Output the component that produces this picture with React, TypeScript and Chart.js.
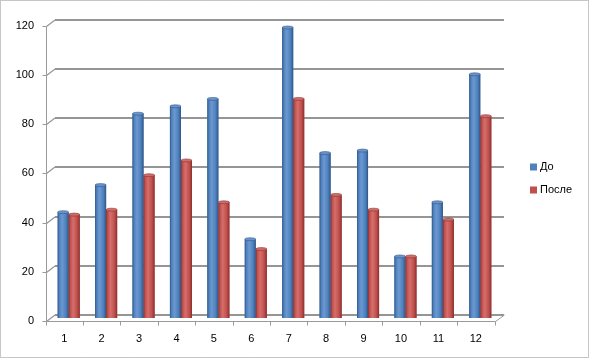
import React, { useEffect, useRef } from 'react';
import { Chart, registerables } from 'chart.js';

Chart.register(...registerables);

const categories = ['1', '2', '3', '4', '5', '6', '7', '8', '9', '10', '11', '12'];
const seriesBefore = [43, 54, 83, 86, 89, 32, 118, 67, 68, 25, 47, 99];
const seriesAfter = [42, 44, 58, 64, 47, 28, 89, 50, 44, 25, 40, 82];
const seriesNames = ['До', 'После'];
const yMin = 0;
const yMax = 120;
const yStep = 20;

const FONT = '"Liberation Sans", Arial, sans-serif';
const DX = 4.5;
const DY = 3;
const GRID = '#959595';
const AXIS = '#9a9a9a';

const barStyles = [
  { base: '#4f81bd', dark: '#2d5688', light: '#6c98d0', cap: '#6a94cc' },
  { base: '#c0504d', dark: '#8a2f2c', light: '#d46f6c', cap: '#d06d6a' },
];

const h = (v: number) => Math.round(v) + 0.5;

const framePlugin = {
  id: 'frame3d',
  beforeDatasetsDraw(chart: any) {
    const { ctx, chartArea, scales } = chart;
    const { left, right, top, bottom } = chartArea;
    const x = scales.x;
    const y = scales.y;
    const line = (x1: number, y1: number, x2: number, y2: number) => {
      ctx.beginPath();
      ctx.moveTo(x1, y1);
      ctx.lineTo(x2, y2);
      ctx.stroke();
    };
    ctx.save();
    y.ticks.forEach((t: any) => {
      const py = y.getPixelForValue(t.value);
      ctx.strokeStyle = GRID;
      ctx.lineWidth = 2;
      line(Math.round(left + DX), Math.round(py - DY), Math.round(right + DX), Math.round(py - DY));
      ctx.lineWidth = 1.2;
      line(h(left - DX), h(py + DY), Math.round(left + DX), Math.round(py - DY));
      ctx.strokeStyle = AXIS;
      ctx.lineWidth = 1;
      line(h(left - DX) - 4, h(py + DY), h(left - DX), h(py + DY));
    });
    ctx.strokeStyle = AXIS;
    ctx.lineWidth = 1;
    line(h(left - DX), h(top + DY), h(left - DX), h(bottom + DY));
    line(h(left - DX), h(bottom + DY), h(right - DX), h(bottom + DY));
    line(h(right - DX), h(bottom + DY), h(right + DX), Math.round(bottom - DY));
    for (let i = 0; i <= categories.length; i++) {
      const px = x.getPixelForValue(i - 0.5) - DX;
      line(h(px), h(bottom + DY), h(px), h(bottom + DY) + 4);
    }
    ctx.restore();
  },
  afterDatasetsDraw(chart: any) {
    const { ctx } = chart;
    ctx.save();
    chart.data.datasets.forEach((ds: any, di: number) => {
      const meta = chart.getDatasetMeta(di);
      const st = barStyles[di];
      meta.data.forEach((el: any) => {
        const w = el.width;
        const x0 = el.x - w / 2;
        const top = el.y;
        const base = el.base;
        const g = ctx.createLinearGradient(x0, 0, x0 + w, 0);
        g.addColorStop(0, st.dark);
        g.addColorStop(0.15, st.base);
        g.addColorStop(0.4, st.light);
        g.addColorStop(0.75, st.base);
        g.addColorStop(1, st.dark);
        ctx.fillStyle = g;
        ctx.fillRect(x0, top, w, base - top);
        ctx.beginPath();
        ctx.ellipse(el.x, top, w / 2, 1.5, 0, 0, Math.PI * 2);
        ctx.fillStyle = st.cap;
        ctx.fill();
        ctx.strokeStyle = st.dark;
        ctx.lineWidth = 0.6;
        ctx.stroke();
      });
    });
    ctx.restore();
  },
  afterDraw(chart: any) {
    const { ctx, width, height } = chart;
    ctx.save();
    ctx.font = `11px ${FONT}`;
    ctx.textBaseline = 'middle';
    ctx.textAlign = 'left';
    const lx = 530;
    const ly = [167, 190];
    chart.data.datasets.forEach((ds: any, i: number) => {
      ctx.fillStyle = barStyles[i].base;
      ctx.fillRect(lx, ly[i] - 3.5, 7, 7);
      ctx.fillStyle = '#000';
      ctx.fillText(ds.label, lx + 10, ly[i]);
    });
    ctx.strokeStyle = '#8c8c8c';
    ctx.setLineDash([1, 1]);
    ctx.lineWidth = 1;
    ctx.strokeRect(0.5, 0.5, width - 1, height - 1);
    ctx.restore();
  },
};

export default function App() {
  const ref = useRef<HTMLCanvasElement | null>(null);
  useEffect(() => {
    if (!ref.current) return;
    const chart = new Chart(ref.current, {
      type: 'bar',
      data: {
        labels: categories,
        datasets: [
          {
            label: seriesNames[0],
            data: seriesBefore,
            backgroundColor: barStyles[0].base,
            borderWidth: 0,
            categoryPercentage: 0.59,
            barPercentage: 1,
          },
          {
            label: seriesNames[1],
            data: seriesAfter,
            backgroundColor: barStyles[1].base,
            borderWidth: 0,
            categoryPercentage: 0.59,
            barPercentage: 1,
          },
        ],
      },
      options: {
        animation: false,
        responsive: false,
        devicePixelRatio: 1,
        layout: { padding: { top: 22, right: 90, left: 0, bottom: 0 } },
        plugins: {
          legend: { display: false },
          tooltip: { enabled: false },
        },
        scales: {
          x: {
            grid: { display: false, drawTicks: false },
            border: { display: false },
            ticks: {
              color: '#000',
              font: { family: FONT, size: 11 },
              padding: 14,
              labelOffset: -DX,
              maxRotation: 0,
              autoSkip: false,
            },
            afterFit: (s: any) => {
              s.height = 40;
            },
          },
          y: {
            min: yMin,
            max: yMax,
            grid: { display: false, drawTicks: false },
            border: { display: false },
            ticks: {
              stepSize: yStep,
              color: '#000',
              font: { family: FONT, size: 11 },
              padding: 16,
              labelOffset: DY,
            },
            afterFit: (s: any) => {
              s.width = 50;
            },
          },
        },
      },
      plugins: [framePlugin],
    });
    return () => chart.destroy();
  }, []);
  return (
    <div style={{ position: 'fixed', left: 0, top: 0, width: 589, height: 358, background: '#fff' }}>
      <canvas ref={ref} width={589} height={358} />
    </div>
  );
}
